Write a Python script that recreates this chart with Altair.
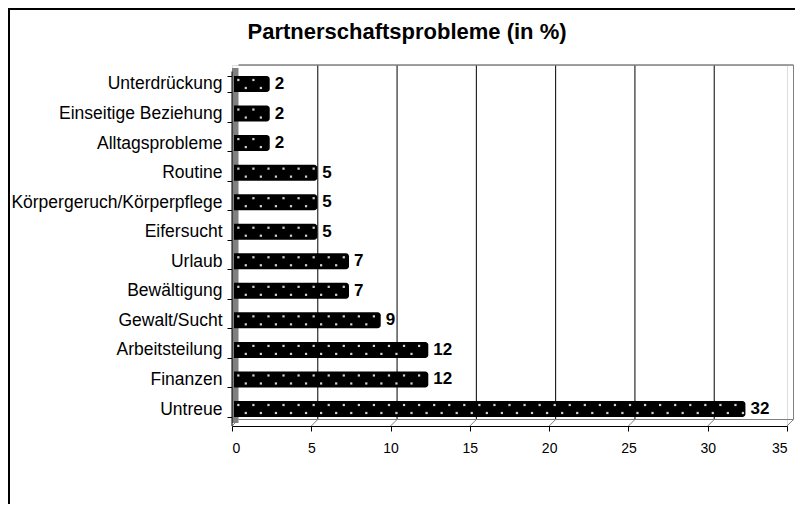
import altair as alt
import pandas as pd

categories = ["Unterdrückung", "Einseitige Beziehung", "Alltagsprobleme", "Routine",
              "Körpergeruch/Körperpflege", "Eifersucht", "Urlaub ", "Bewältigung",
              "Gewalt/Sucht", "Arbeitsteilung", "Finanzen", "Untreue"]
values = [2, 2, 2, 5, 5, 5, 7, 7, 9, 12, 12, 32]
tick_values = [0, 5, 10, 15, 20, 25, 30, 35]
title_text = "Partnerschaftsprobleme (in %)"

FONT = "Liberation Sans"
W, H = 555, 361
DEPTH = 6.5
GRAY = "#808080"

df = pd.DataFrame({"cat": categories, "value": values, "start": [0] * len(values)})
ticks_df = pd.DataFrame({"v": tick_values})

# decorative dot pattern inside the bars (derived from the bar values)
dot_rows = []
for c, v in zip(categories, values):
    for row, first in ((0, 0.4), (1, 0.87)):
        u = first
        while u < v + 0.25:
            dot_rows.append({"cat": c, "u": u, "row": row})
            u += 0.95
dots_df = pd.DataFrame(dot_rows)

one = alt.Data(values=[{"a": 1}])

xscale = alt.Scale(domain=[0, 35], nice=False, zero=False, padding=0, range=[0, W])
yscale = alt.Scale(paddingInner=0.4586, paddingOuter=0.338, align=0.55)

x_axis = alt.Axis(values=tick_values, grid=False, tickSize=5, tickColor="black",
                  domainColor="black", labelFont=FONT, labelFontSize=14,
                  labelColor="black", labelPadding=10, title=None)
y_axis = alt.Axis(domain=False, tickBand="extent", tickOffset=2.5, tickSize=5,
                  tickColor="black", labelFont=FONT, labelFontSize=17.5,
                  labelColor="black", labelPadding=5, title=None, labelLimit=400)

wall = alt.Chart(one).mark_rect(color=GRAY).encode(
    x=alt.value(0), x2=alt.value(DEPTH), y=alt.value(3), y2=alt.value(H - 3))

grid = alt.Chart(ticks_df).transform_filter("datum.v > 0").mark_rule(
    xOffset=DEPTH, strokeWidth=1).encode(
    x=alt.X("v:Q", scale=xscale, axis=x_axis),
    y=alt.value(0), y2=alt.value(H - DEPTH),
    color=alt.condition("datum.v == 35", alt.value(GRAY), alt.value("black")),
    strokeWidth=alt.condition("datum.v == 35", alt.value(2.5), alt.value(1)))

top_line = alt.Chart(one).mark_rule(color=GRAY, strokeWidth=1.5).encode(
    x=alt.value(DEPTH), x2=alt.value(W + DEPTH), y=alt.value(0))
floor_line = alt.Chart(one).mark_rule(color=GRAY, strokeWidth=1).encode(
    x=alt.value(DEPTH), x2=alt.value(W + DEPTH), y=alt.value(H - DEPTH))
floor_diag = alt.Chart(ticks_df).mark_rule(color=GRAY, x2Offset=DEPTH).encode(
    x=alt.X("v:Q", scale=xscale), x2="v:Q",
    y=alt.value(H), y2=alt.value(H - DEPTH))
y_line = alt.Chart(one).mark_rule(color="black").encode(
    x=alt.value(0), y=alt.value(DEPTH), y2=alt.value(H))

bars = alt.Chart(df).mark_bar(color="black", xOffset=2, x2Offset=6,
                              cornerRadiusTopRight=3, cornerRadiusBottomRight=3).encode(
    x=alt.X("start:Q", scale=xscale), x2="value:Q",
    y=alt.Y("cat:N", sort=categories, scale=yscale, axis=y_axis))

dots_up = alt.Chart(dots_df).transform_filter("datum.row == 0").mark_square(
    size=5, color="#d0d0d0", opacity=1, yOffset=-4).encode(
    x=alt.X("u:Q", scale=xscale), y=alt.Y("cat:N", sort=categories))
dots_dn = alt.Chart(dots_df).transform_filter("datum.row == 1").mark_square(
    size=5, color="#d0d0d0", opacity=1, yOffset=4).encode(
    x=alt.X("u:Q", scale=xscale), y=alt.Y("cat:N", sort=categories))

labels = alt.Chart(df).mark_text(align="left", baseline="middle", dx=11, fontSize=17,
                                 fontWeight="bold", font=FONT, color="black").encode(
    x=alt.X("value:Q", scale=xscale), y=alt.Y("cat:N", sort=categories),
    text="value:Q")

title = alt.Chart(one).mark_text(text=title_text, font=FONT, fontSize=22,
                                 fontWeight="bold", color="black",
                                 align="center", baseline="middle").encode(
    x=alt.value(175), y=alt.value(-33))

border = alt.Chart(one).mark_rect(filled=False, stroke="black", strokeWidth=2).encode(
    x=alt.value(-223), x2=alt.value(900), y=alt.value(-56), y2=alt.value(900))

chart = alt.layer(
    border, wall, grid, top_line, floor_line, floor_diag, y_line,
    bars, dots_up, dots_dn, labels, title
).properties(
    width=W, height=H,
    autosize=alt.AutoSizeParams(type="none"),
    padding={"left": 224, "top": 57, "right": 8, "bottom": 78},
).configure_view(stroke=None).configure(background="white")

chart.save("out.html", embed_options={"renderer": "svg", "actions": False})
